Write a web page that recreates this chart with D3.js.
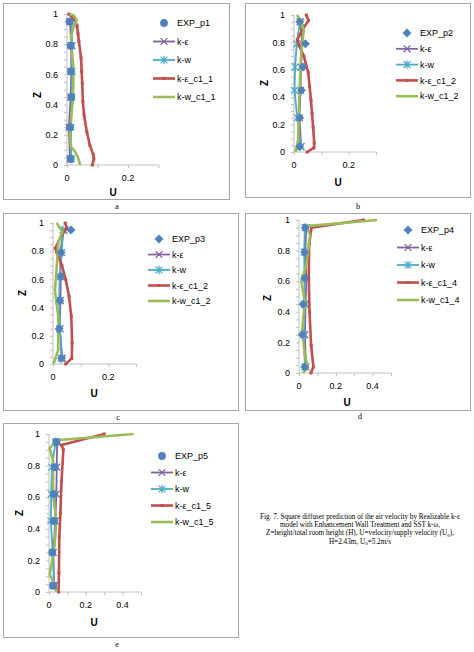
<!DOCTYPE html>
<html>
<head>
<meta charset="utf-8">
<script src="https://cdnjs.cloudflare.com/ajax/libs/d3/7.8.5/d3.min.js"></script>
<style>
  body { margin: 0; background: #fff; }
  text { font-family: "Liberation Sans", Arial, sans-serif; }
  .serif { font-family: "Liberation Serif", "Times New Roman", serif; }
</style>
</head>
<body>
<div id="fig"></div>
<script>
// heights where the experiment and the k-e / k-w markers sit
var zExp = [0.04, 0.25, 0.45, 0.62, 0.79, 0.95];

// panel a (p1)
var expP1 = [0.012, 0.010, 0.014, 0.013, 0.012, 0.008];
var keP1 = [0.010, 0.006, 0.012, 0.014, 0.014, 0.010];
var kwP1 = [0.014, 0.013, 0.016, 0.017, 0.017, 0.015];
var keC1P1 = [[0.083,0],[0.088,0.04],[0.086,0.07],[0.075,0.13],[0.065,0.22],[0.056,0.33],[0.052,0.42],[0.050,0.54],[0.048,0.62],[0.046,0.71],[0.039,0.82],[0.036,0.87],[0.033,0.92],[0.025,0.96],[0.006,1]];
var kwC1P1 = [[0.043,0],[0.036,0.05],[0.026,0.09],[0.013,0.12],[0.010,0.21],[0.014,0.32],[0.019,0.43],[0.021,0.55],[0.021,0.65],[0.016,0.76],[0.013,0.85],[0.022,0.92],[0.032,0.96],[0.022,0.99],[0.008,1]];

// panel b (p2)
var expP2 = [0.021, 0.021, 0.027, 0.033, 0.042, 0.021];
var keP2 = [0.026, 0.020, 0.024, 0.026, 0.030, 0.024];
var kwP2 = [0.024, 0.012, 0.002, 0.004, 0.010, 0.022];
var keC1P2 = [[0.048,0],[0.073,0.03],[0.074,0.065],[0.070,0.18],[0.066,0.28],[0.062,0.38],[0.057,0.48],[0.052,0.58],[0.036,0.70],[0.018,0.78],[0.012,0.82],[0.030,0.89],[0.053,0.96],[0.045,1]];
var kwC1P2 = [[0.006,0],[0.015,0.09],[0.018,0.26],[0.021,0.5],[0.027,0.74],[0.036,0.89],[0.025,0.95],[0.011,1]];

// panel c (p3)
var expP3 = [0.031, 0.022, 0.025, 0.029, 0.029, 0.065];
var keP3 = [0.034, 0.024, 0.027, 0.028, 0.025, 0.040];
var kwP3 = [0.030, 0.026, 0.022, 0.024, 0.032, 0.036];
var keC1P3 = [[0.046,0],[0.068,0.04],[0.069,0.15],[0.066,0.34],[0.058,0.48],[0.046,0.60],[0.032,0.70],[0.014,0.79],[0.008,0.82],[0.030,0.91],[0.050,0.965],[0.044,1]];
var kwC1P3 = [[0.002,0],[0.019,0.1],[0.019,0.34],[0.007,0.52],[0.011,0.62],[0.019,0.86],[0.034,0.94],[0.013,1]];

// panel d (p4)
var expP4 = [0.031, 0.018, 0.022, 0.031, 0.031, 0.034];
var keP4 = [0.038, 0.032, 0.036, 0.040, 0.034, 0.040];
var kwP4 = [0.032, 0.026, 0.030, 0.030, 0.028, 0.032];
var keC1P4 = [[0.065,0],[0.078,0.04],[0.066,0.18],[0.057,0.40],[0.053,0.62],[0.055,0.84],[0.068,0.95],[0.35,1]];
var kwC1P4 = [[0.022,0],[0.048,0.04],[0.031,0.12],[0.018,0.28],[0.031,0.47],[0.013,0.6],[0.040,0.71],[0.060,0.9],[0.040,0.96],[0.425,1]];

// panel e (p5)
var expP5 = [0.022, 0.018, 0.027, 0.027, 0.031, 0.040];
var keP5 = [0.026, 0.024, 0.034, 0.040, 0.042, 0.044];
var kwP5 = [0.030, 0.020, 0.010, 0.012, 0.016, 0.036];
var keC1P5 = [[0.052,0],[0.054,0.12],[0.056,0.35],[0.062,0.50],[0.068,0.70],[0.078,0.90],[0.068,0.93],[0.30,1]];
var kwC1P5 = [[0.040,0],[0.031,0.05],[0.004,0.11],[0.031,0.30],[0.040,0.45],[0.022,0.62],[0.022,0.83],[0.004,0.91],[0.040,0.96],[0.46,1]];

var zTicks = [0, 0.2, 0.4, 0.6, 0.8, 1];
var captionLines = [
  "Fig. 7. Square diffuser prediction of the air velocity by Realizable k-\u03b5",
  "model with Enhancement Wall Treatment and SST k-\u03c9,",
  "Z=height/total room height (H), U=velocity/supply velocity (U",
  "H=2.43m, U"
];

var colors = { exp: "#4F81BD", ke: "#8064A2", kw: "#4BACC6", keC1: "#C0504D", kwC1: "#9BBB59" };
var axisColor = "#BFBFBF";

var panels = [
  { sub: "a", box: [3, 3, 229, 199], xr: [67, 158.5], yr: [165, 14], xmax: 0.3, xLabels: [0, 0.2],
    leg: [164, 23, 18.5], zt: [37, 95], ut: [113, 192], subPos: [117, 209], shape: "circle",
    names: ["EXP_p1", "k-\u03b5", "k-w", "k-\u03b5_c1_1", "k-w_c1_1"],
    exp: expP1, ke: keP1, kw: kwP1, keC1: keC1P1, kwC1: kwC1P1 },
  { sub: "b", box: [245, 3, 470, 197], xr: [294, 376], yr: [152, 15], xmax: 0.3, xLabels: [0, 0.2],
    leg: [407, 33, 15.8], zt: [264, 83], ut: [338, 182], subPos: [358, 209], shape: "diamond",
    names: ["EXP_p2", "k-\u03b5", "k-w", "k-\u03b5_c1_2", "k-w_c1_2"],
    exp: expP2, ke: keP2, kw: kwP2, keC1: keC1P2, kwC1: kwC1P2 },
  { sub: "c", box: [3, 213, 238, 410], xr: [53, 136], yr: [364, 223], xmax: 0.3, xLabels: [0, 0.2],
    leg: [159, 239, 15.5], zt: [22, 293], ut: [94, 393], subPos: [118, 420], shape: "diamond",
    names: ["EXP_p3", "k-\u03b5", "k-w", "k-\u03b5_c1_2", "k-w_c1_2"],
    exp: expP3, ke: keP3, kw: kwP3, keC1: keC1P3, kwC1: kwC1P3 },
  { sub: "d", box: [245, 213, 470, 410], xr: [299, 391], yr: [373, 220], xmax: 0.5, xLabels: [0, 0.2, 0.4],
    leg: [408, 230, 17.5], zt: [267, 298], ut: [347, 402], subPos: [360, 419], shape: "diamond",
    names: ["EXP_p4", "k-\u03b5", "k-w", "k-\u03b5_c1_4", "k-w_c1_4"],
    exp: expP4, ke: keP4, kw: kwP4, keC1: keC1P4, kwC1: kwC1P4 },
  { sub: "e", box: [3, 423, 238, 637], xr: [49, 141], yr: [592, 434], xmax: 0.5, xLabels: [0, 0.2, 0.4],
    leg: [162, 456, 16.5], zt: [19, 513], ut: [94, 622], subPos: [117, 647], shape: "circle",
    names: ["EXP_p5", "k-\u03b5", "k-w", "k-\u03b5_c1_5", "k-w_c1_5"],
    exp: expP5, ke: keP5, kw: kwP5, keC1: keC1P5, kwC1: kwC1P5 }
];

var svg = d3.select("#fig").append("svg")
  .attr("width", 474)
  .attr("height", 652);

// draw one marker of a given kind
function marker(g, kind, cx, cy, color) {
  if (kind == "circle") {
    g.append("circle").attr("cx", cx).attr("cy", cy).attr("r", 3.9).attr("fill", color);
  } else if (kind == "diamond") {
    g.append("path").attr("d", d3.symbol().type(d3.symbolSquare).size(40)())
      .attr("transform", "translate(" + cx + "," + cy + ") rotate(45)").attr("fill", color);
  } else if (kind == "cross") {
    var s = 3.4;
    g.append("path").attr("d", "M" + (cx - s) + "," + (cy - s) + "L" + (cx + s) + "," + (cy + s) +
        "M" + (cx - s) + "," + (cy + s) + "L" + (cx + s) + "," + (cy - s))
      .attr("stroke", color).attr("stroke-width", 1.3).attr("fill", "none");
  } else if (kind == "star") {
    var t = 3.4;
    g.append("path").attr("d", "M" + (cx - t) + "," + (cy - t) + "L" + (cx + t) + "," + (cy + t) +
        "M" + (cx - t) + "," + (cy + t) + "L" + (cx + t) + "," + (cy - t) +
        "M" + cx + "," + (cy - t - 0.8) + "L" + cx + "," + (cy + t + 0.8))
      .attr("stroke", color).attr("stroke-width", 1.3).attr("fill", "none");
  } else if (kind == "dash") {
    g.append("rect").attr("x", cx - 1.5).attr("y", cy - 1.5).attr("width", 3).attr("height", 3).attr("fill", color);
  }
}

panels.forEach(function(p) {
  var g = svg.append("g");

  // chart frame
  g.append("rect")
    .attr("x", p.box[0] + 0.5).attr("y", p.box[1] + 0.5)
    .attr("width", p.box[2] - p.box[0]).attr("height", p.box[3] - p.box[1])
    .attr("fill", "none").attr("stroke", "#A6A6A6").attr("stroke-width", 1);

  var x = d3.scaleLinear().domain([0, p.xmax]).range(p.xr);
  var y = d3.scaleLinear().domain([0, 1]).range(p.yr);

  // y axis with minor ticks every 0.05
  var yAxis = g.append("g")
    .attr("transform", "translate(" + p.xr[0] + ",0)")
    .call(d3.axisLeft(y).tickValues(d3.range(0, 1.0001, 0.05)).tickSize(3).tickFormat(""));
  yAxis.selectAll("path,line").attr("stroke", axisColor);
  yAxis.select(".domain").attr("d", "M0," + p.yr[0] + "V" + p.yr[1]);

  g.selectAll(".ylab").data(zTicks).enter().append("text")
    .attr("x", p.xr[0] - 9).attr("y", function(d) { return y(d); })
    .attr("dy", "0.35em").attr("text-anchor", "end")
    .attr("font-size", 9).attr("fill", "#000")
    .text(function(d) { return d; });

  // x axis, ticks every 0.1, labels every 0.2
  var xAxis = g.append("g")
    .attr("transform", "translate(0," + p.yr[0] + ")")
    .call(d3.axisBottom(x).tickValues(d3.range(0, p.xmax + 0.0001, 0.1)).tickSize(3).tickFormat(""));
  xAxis.selectAll("path,line").attr("stroke", axisColor);
  xAxis.select(".domain").attr("d", "M" + p.xr[0] + ",0H" + p.xr[1]);

  g.selectAll(".xlab").data(p.xLabels).enter().append("text")
    .attr("x", function(d) { return x(d); }).attr("y", p.yr[0] + 13)
    .attr("dy", "0.35em").attr("text-anchor", "middle")
    .attr("font-size", 9).attr("fill", "#000")
    .text(function(d) { return d; });

  // axis titles
  g.append("text").attr("transform", "translate(" + p.zt[0] + "," + p.zt[1] + ") rotate(-90)")
    .attr("text-anchor", "middle").attr("dy", "0.35em")
    .attr("font-size", 10).attr("font-weight", "bold").text("Z");
  g.append("text").attr("x", p.ut[0]).attr("y", p.ut[1]).attr("dy", "0.35em")
    .attr("text-anchor", "middle").attr("font-size", 10).attr("font-weight", "bold").text("U");

  // sub label under the chart
  g.append("text").attr("class", "serif").attr("x", p.subPos[0]).attr("y", p.subPos[1])
    .attr("text-anchor", "middle").attr("font-size", 8).text(p.sub);

  var line = d3.line().x(function(d) { return x(d[0]); }).y(function(d) { return y(d[1]); });
  var pairs = function(arr) { return arr.map(function(u, i) { return [u, zExp[i]]; }); };

  // k-e and k-w with markers
  [["ke", "cross"], ["kw", "star"]].forEach(function(s) {
    var pts = pairs(p[s[0]]);
    g.append("path").datum(pts).attr("d", line)
      .attr("fill", "none").attr("stroke", colors[s[0]]).attr("stroke-width", 1.8);
    pts.forEach(function(d) { marker(g, s[1], x(d[0]), y(d[1]), colors[s[0]]); });
  });

  // c1 curves
  g.append("path").datum(p.keC1).attr("d", line)
    .attr("fill", "none").attr("stroke", colors.keC1).attr("stroke-width", 2.6).attr("stroke-linejoin", "round");
  p.keC1.forEach(function(d) { marker(g, "dash", x(d[0]), y(d[1]), colors.keC1); });
  g.append("path").datum(p.kwC1).attr("d", line)
    .attr("fill", "none").attr("stroke", colors.kwC1).attr("stroke-width", 2.6).attr("stroke-linejoin", "round");

  // EXP points on top
  pairs(p.exp).forEach(function(d) { marker(g, p.shape, x(d[0]), y(d[1]), colors.exp); });

  // legend
  var kinds = [
    { c: colors.exp, m: p.shape, line: false, w: 0 },
    { c: colors.ke, m: "cross", line: true, w: 1.8 },
    { c: colors.kw, m: "star", line: true, w: 1.8 },
    { c: colors.keC1, m: "dash", line: true, w: 2.6 },
    { c: colors.kwC1, m: null, line: true, w: 2.6 }
  ];
  kinds.forEach(function(k, i) {
    var ly = p.leg[1] + i * p.leg[2];
    var lx = p.leg[0];
    if (k.line) {
      g.append("line").attr("x1", lx - 11).attr("x2", lx + 11).attr("y1", ly).attr("y2", ly)
        .attr("stroke", k.c).attr("stroke-width", k.w);
    }
    if (k.m) marker(g, k.m, lx, ly, k.c);
    g.append("text").attr("x", lx + 13).attr("y", ly).attr("dy", "0.35em")
      .attr("font-size", 9).text(p.names[i]);
  });
});

// caption
var cap = svg.append("g").attr("class", "serif");
var capY = [516, 524.3, 532.6, 541];
captionLines.forEach(function(t, i) {
  var tx = cap.append("text").attr("class", "serif").attr("x", 360).attr("y", capY[i])
    .attr("text-anchor", "middle").attr("font-size", 7.2).attr("dy", "0.35em");
  tx.append("tspan").text(t);
  if (i == 2) {
    tx.append("tspan").attr("font-size", 5).attr("dy", "1.5").text("0");
    tx.append("tspan").attr("dy", "-1.5").text("),");
  }
  if (i == 3) {
    tx.append("tspan").attr("font-size", 5).attr("dy", "1.5").text("0");
    tx.append("tspan").attr("dy", "-1.5").text("=5.2m/s");
  }
});
</script>
</body>
</html>
